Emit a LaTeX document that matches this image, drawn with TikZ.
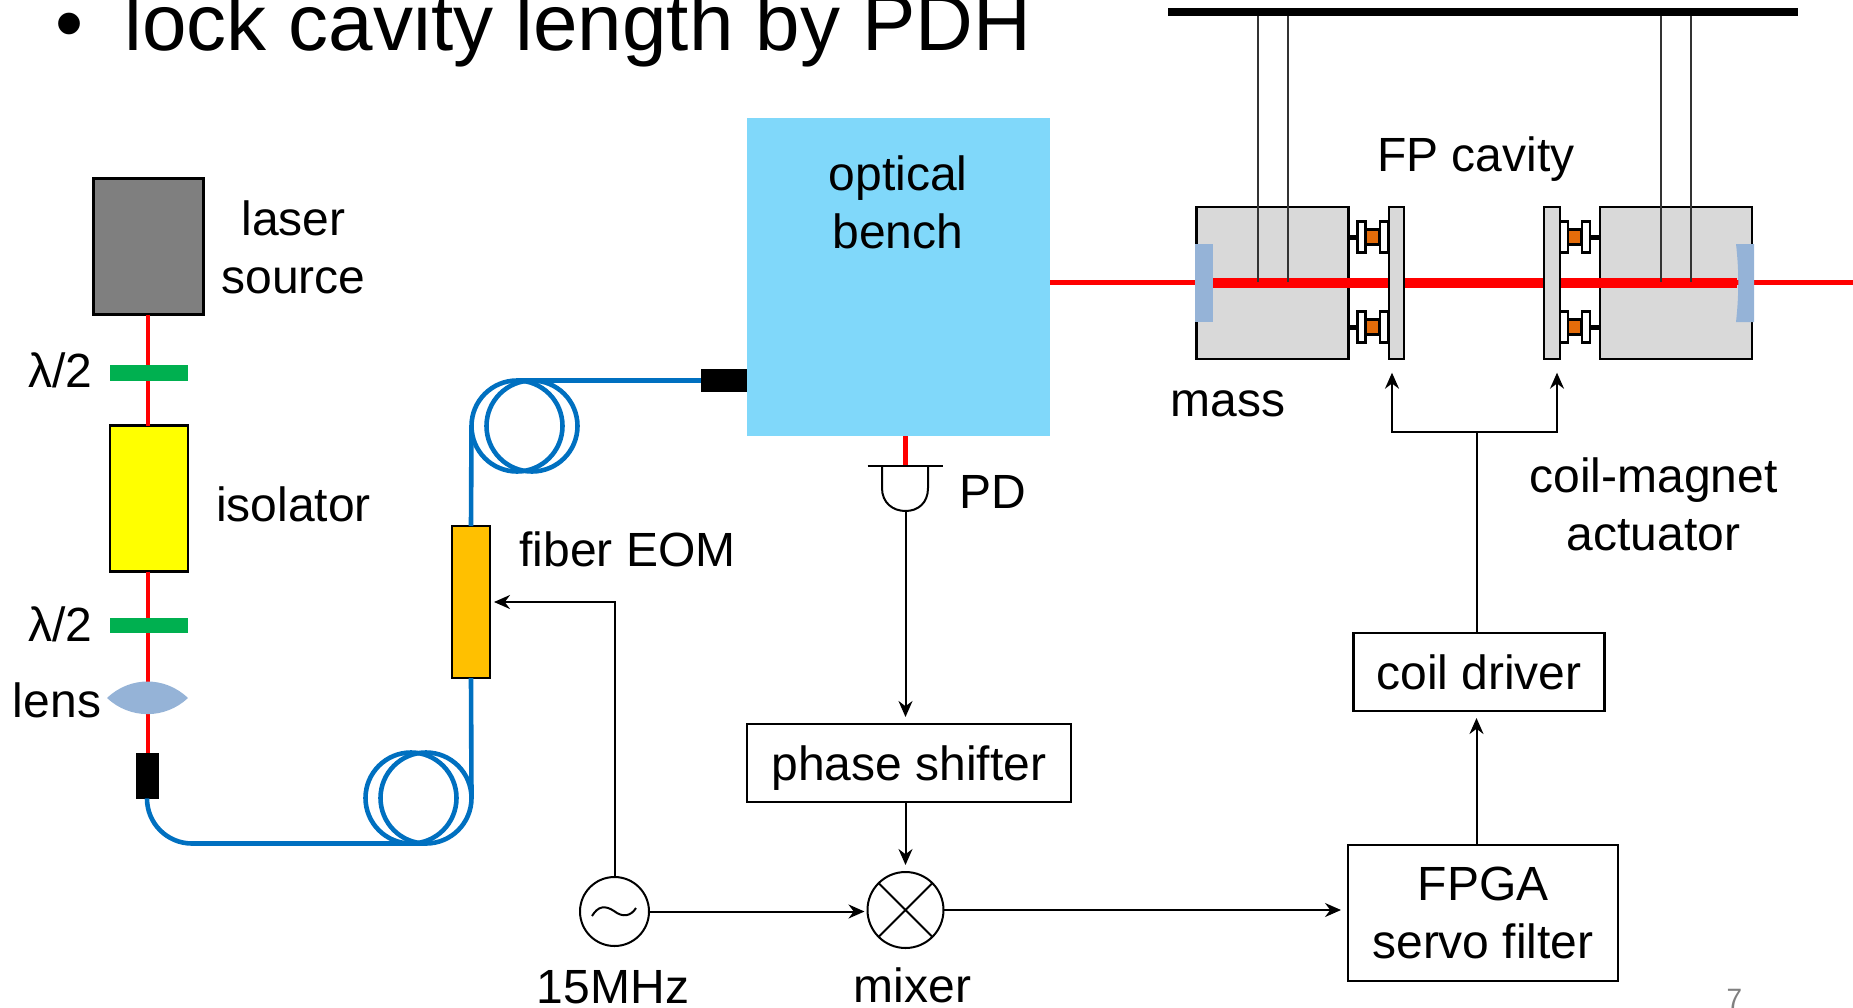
\documentclass[tikz,border=0pt]{standalone}
\usepackage{fontspec}
\setmainfont{Liberation Sans}
\usepackage{tikz}
\usetikzlibrary{arrows.meta}
\definecolor{benchblue}{HTML}{80D8FA}
\definecolor{fibreblue}{HTML}{0070C0}
\definecolor{mirrorblue}{HTML}{95B3D7}
\definecolor{wpgreen}{HTML}{00B050}
\definecolor{isoyellow}{HTML}{FFFF00}
\definecolor{eomorange}{HTML}{FFC000}
\definecolor{coilorange}{HTML}{E46C0A}
\definecolor{massgray}{HTML}{D9D9D9}
\definecolor{lasergray}{HTML}{7F7F7F}

\begin{document}
\begin{tikzpicture}[>={Stealth[length=8pt,width=7pt]}, x=0.5pt, y=-0.5pt,
	lbl/.style={inner sep=0pt, font=\fontsize{24}{29}\selectfont, align=center},
	part/.style={rectangle, inner sep=0pt, outer sep=0pt},
	box/.style={part, draw, line width=1.2pt},
	sig/.style={->, line width=1pt, shorten >=3.5pt},
	beam/.style={red, line width=2.7pt},
	fatbeam/.style={red, line width=5pt},
	fibre/.style={fibreblue, line width=2.3pt},
	coil/.style={circle, draw=fibreblue, line width=2.3pt, inner sep=0pt, outer sep=0pt, minimum size=45.5pt},
	magnet/.style={box, fill=white, minimum width=4pt, minimum height=15.5pt},
	winding/.style={box, fill=coilorange, minimum width=6.5pt, minimum height=7.5pt},
	stub/.style={line width=2.5pt},
	wire/.style={black!80, line width=0.6pt}]
	\useasboundingbox (0,0) rectangle (1853,1007);

	\node[lbl, anchor=base west, font=\fontsize{40}{48}\selectfont] (title) at (55,50) {•\hspace{20.5pt}lock cavity length by PDH};

	% laser line
	\node[box, fill=lasergray, minimum width=55pt, minimum height=68pt] (laser) at (148.5,246.5) {};
	\node[part, fill=wpgreen, minimum width=39pt, minimum height=8pt] (hwa) at (149,373) {};
	\node[box, fill=isoyellow, minimum width=39pt, minimum height=73pt] (iso) at (149,498.5) {};
	\node[part, fill=wpgreen, minimum width=39pt, minimum height=7.5pt] (hwb) at (149,625.5) {};
	\coordinate (lens) at (148,698);
	\node[part, fill=black, minimum width=11.5pt, minimum height=23pt] (porta) at (147,776) {};
	\draw[beam, line width=2.3pt] (lens |- laser.south) -- (lens |- hwa.north)
		(lens |- hwa.south) -- (lens |- iso.north)
		(lens |- iso.south) -- (lens |- hwb.north)
		(lens |- hwb.south) -- (lens |- porta.north);
	\fill[mirrorblue] (107,698) .. controls (130,676) and (165,676) .. (188,698)
		.. controls (165,719.5) and (130,719.5) .. (107,698) -- cycle;

	\node[lbl] (lasertxt) at (293.5,247) {laser\\source};
	\node[lbl] (isotxt) at (293.5,504) {isolator};
	\node[lbl] (hwatxt) at (60.5,370) {λ/2};
	\node[lbl] (hwbtxt) at (60.5,624.5) {λ/2};
	\node[lbl] (lenstxt) at (57,700) {lens};

	% fibre to the bench
	\node[coil] (coila) at (411,798) {};
	\node[coil] (coilb) at (426,798) {};
	\node[coil] (coilc) at (517,426) {};
	\node[coil] (coild) at (532,426) {};
	\node[box, fill=eomorange, minimum width=19pt, minimum height=76pt] (eom) at (471,602) {};
	\node[part, fill=black, minimum width=23pt, minimum height=11.5pt] (portb) at (724,380.5) {};
	\node[part, fill=benchblue, minimum width=151.5pt, minimum height=159pt] (bench) at (898.5,277) {};
	\draw[fibre, rounded corners=22.5pt] (porta.south) |- (coilb.south);
	\draw[fibre] (coilb.east) -- (eom.south);
	\draw[fibre] (eom.north) -- (coilc.west);
	\draw[fibre] (coilc.north) -- (portb.west);
	\node[lbl] (eomtxt) at (627.5,549.5) {fiber EOM};
	\node[lbl] (benchtxt) at (898,202) {optical\\bench};

	% detection and servo
	\coordinate (pdtop) at (905.5,465.7);
	\coordinate (pd) at (905.5,511);
	\draw[beam] (pdtop |- bench.south) -- (pdtop);
	\draw[line width=1pt] (867.7,465.7) -- (943,465.7);
	\draw[line width=1pt] (882,465.7) -- (882,488) .. controls (882,503) and (893,511) .. (pd)
		.. controls (918,511) and (928,503) .. (928,488) -- (928,465.7);
	\node[lbl] (pdtxt) at (993,491.5) {PD};
	\node[box, minimum width=162pt, minimum height=39pt, lbl, text depth=0pt] (shifter) at (909,763) {phase shifter};
	\node[circle, draw, line width=1pt, inner sep=0pt, outer sep=0pt, minimum size=34.5pt] (osc) at (614.5,911.5) {};
	\node[circle, draw, line width=1pt, inner sep=0pt, outer sep=0pt, minimum size=38pt] (mixer) at (905.5,910) {};
	\draw[line width=1pt] (592,916) .. controls (598,906) and (605,905) .. (614,911)
		.. controls (623,918) and (631,916) .. (636,908);
	\draw[line width=1pt] (mixer.45) -- (mixer.225) (mixer.135) -- (mixer.-45);
	\node[lbl] (osctxt) at (613,987) {15MHz};
	\node[lbl] (mixertxt) at (912.5,985) {mixer};
	\node[box, minimum width=135pt, minimum height=68pt, lbl] (fpga) at (1483,913) {FPGA\\servo filter};
	\node[box, minimum width=125.5pt, minimum height=39pt, lbl] (driver) at (1479,672) {coil driver};
	\coordinate (fork) at (1476.5,432);
	\coordinate (tipa) at (1392,372.7);
	\coordinate (tipb) at (1557,372.7);
	\draw[sig] (pd) -- (pd |- shifter.north);
	\draw[sig] (mixer.north |- shifter.south) -- (mixer.north);
	\draw[sig, shorten >=1.5pt] (osc.east) -- (mixer.west |- osc.east);
	\draw[sig, shorten >=2pt] (osc.north) |- (eom.east);
	\draw[sig] (mixer.east) -- (fpga.west |- mixer.east);
	\draw[sig] (fork |- fpga.north) -- (fork |- driver.south);
	\draw[line width=1pt] (fork |- driver.north) -- (fork);
	\draw[sig, shorten >=0pt] (fork) -| (tipa);
	\draw[sig, shorten >=0pt] (fork) -| (tipb);
	\node[lbl] (acttxt) at (1653.5,504) {coil-magnet\\actuator};

	% suspended cavity
	\node[part, fill=black, minimum width=315pt, minimum height=4pt] (bar) at (1483,12) {};
	\node[box, fill=massgray, minimum width=76pt, minimum height=76pt] (massa) at (1272.5,283) {};
	\node[box, fill=massgray, minimum width=76pt, minimum height=76pt] (massb) at (1676,283) {};
	\node[part, fill=mirrorblue, minimum width=9pt, minimum height=39pt] (mirrora) at (1204,282.5) {};
	\coordinate (mirrorb) at (1737,282.5);
	\coordinate (outb) at (1853,282.5);
	\draw[beam] (bench.east |- mirrora.west) -- (mirrora.west);
	\draw[beam] (mirrorb) -- (outb);
	\draw[fatbeam] (mirrora.east) -- (mirrorb);
	\fill[mirrorblue] (1736,244) .. controls (1739,270) and (1739,295) .. (1736,322) -- (1754,322) -- (1754,244) -- cycle;
	\node[box, fill=massgray, minimum width=7.5pt, minimum height=76pt] (platea) at (1396.5,283) {};
	\node[box, fill=massgray, minimum width=8pt, minimum height=76pt] (plateb) at (1552,283) {};

	\node[magnet] (maga) at (1361.5,237) {};
	\node[magnet] (magb) at (1384,237) {};
	\node[winding] (winda) at (1372.5,237) {};
	\draw[stub] (massa.east |- maga.west) -- (maga.west);
	\node[magnet] (magc) at (1361.5,327) {};
	\node[magnet] (magd) at (1384,327) {};
	\node[winding] (windb) at (1372.5,327) {};
	\draw[stub] (massa.east |- magc.west) -- (magc.west);
	\node[magnet] (mage) at (1564,237) {};
	\node[magnet] (magf) at (1586,237) {};
	\node[winding] (windc) at (1574.5,237) {};
	\draw[stub] (magf.east) -- (massb.west |- magf.east);
	\node[magnet] (magg) at (1564,327) {};
	\node[magnet] (magh) at (1586,327) {};
	\node[winding] (windd) at (1574.5,327) {};
	\draw[stub] (magh.east) -- (massb.west |- magh.east);

	\draw[wire] (1258,16) -- (1258,282);
	\draw[wire] (1288,16) -- (1288,282);
	\draw[wire] (1661,16) -- (1661,282);
	\draw[wire] (1691,16) -- (1691,282);

	\node[lbl] (fptxt) at (1476,159) {FP cavity};
	\node[lbl] (masstxt) at (1228,404) {mass};
	\node[lbl, text=gray, font=\fontsize{14}{17}\selectfont] (pagenum) at (1734.5,999) {7};
\end{tikzpicture}
\end{document}
